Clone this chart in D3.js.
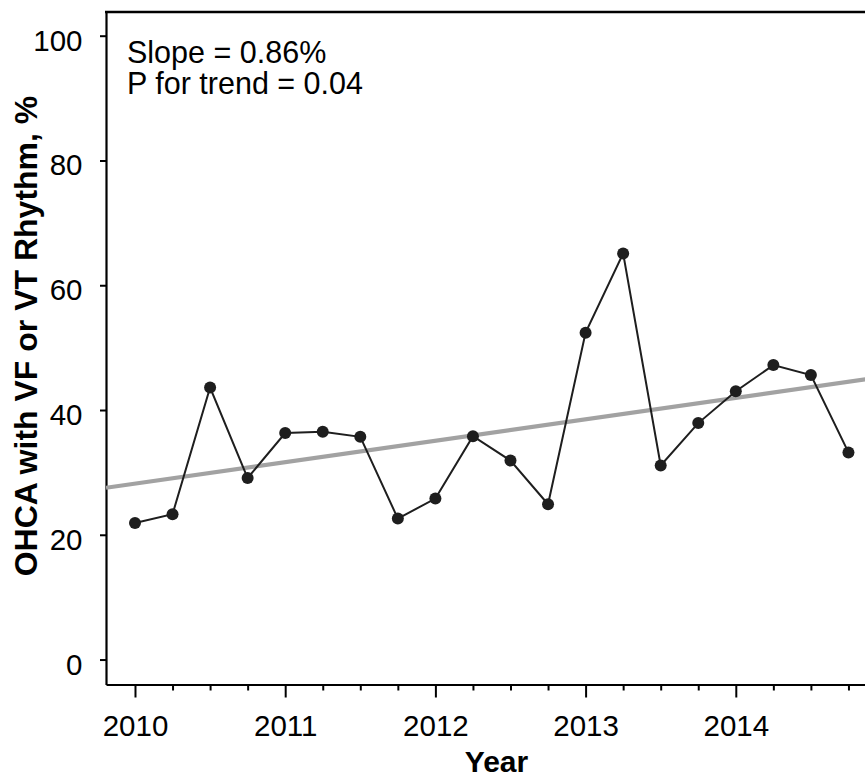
<!DOCTYPE html>
<html>
<head>
<meta charset="utf-8">
<script src="https://cdn.jsdelivr.net/npm/d3@7"></script>
<style>
  html, body { margin: 0; padding: 0; background: #fff; overflow: hidden; }
  svg { display: block; font-family: "Liberation Sans", Arial, Helvetica, sans-serif; }
</style>
</head>
<body>
<svg id="chart" width="865" height="778"></svg>
<script>
// Quarterly share of OHCA with a shockable (VF/VT) rhythm
const quarters = [
  2010.00, 2010.25, 2010.50, 2010.75,
  2011.00, 2011.25, 2011.50, 2011.75,
  2012.00, 2012.25, 2012.50, 2012.75,
  2013.00, 2013.25, 2013.50, 2013.75,
  2014.00, 2014.25, 2014.50, 2014.75
];
const pctVF = [
  21.9, 23.3, 43.6, 29.1,
  36.3, 36.5, 35.7, 22.6,
  25.8, 35.8, 31.9, 24.9,
  52.4, 65.1, 31.1, 37.9,
  43.0, 47.2, 45.6, 33.2
];

// Linear trend: value at 2010.0 and slope per quarter (%)
const trendAt2010 = 28.2;
const trendSlopePerQuarter = 0.86;

const yTicks = [0, 20, 40, 60, 80, 100];
const yearTicks = [2010, 2011, 2012, 2013, 2014];
const quarterTicks = [
  2010, 2010.25, 2010.5, 2010.75, 2011, 2011.25, 2011.5, 2011.75,
  2012, 2012.25, 2012.5, 2012.75, 2013, 2013.25, 2013.5, 2013.75,
  2014, 2014.25, 2014.5, 2014.75
];
const annotations = ["Slope = 0.86%", "P for trend = 0.04"];
const xTitle = "Year";
const yTitle = "OHCA with VF or VT Rhythm, %";

const svg = d3.select("#chart");
const plotL = 106, plotR = 886, plotT = 12, plotB = 684.5;

const x = d3.scaleLinear().domain([2009.807, 2015]).range([plotL, plotR]);
const y = d3.scaleLinear().domain([-4, 103.8]).range([plotB, plotT]);

// Clip for plotted marks
svg.append("defs").append("clipPath").attr("id", "plotClip")
  .append("rect").attr("x", plotL).attr("y", plotT)
  .attr("width", plotR - plotL).attr("height", plotB - plotT);

// Y axis
const yAxis = svg.append("g")
  .attr("transform", `translate(${plotL},0)`)
  .call(d3.axisLeft(y).tickValues(yTicks).tickSize(6).tickSizeOuter(0).tickFormat(d3.format("d")));
yAxis.select(".domain").attr("stroke", "#000").attr("stroke-width", 2.2);
yAxis.selectAll(".tick line").attr("stroke", "#000").attr("stroke-width", 2);
yAxis.selectAll(".tick text")
  .attr("x", -23.5).attr("dy", null).attr("y", 14.5)
  .attr("fill", "#000").style("font-size", "29.5px")
  .style("font-family", "'Liberation Sans', Arial, sans-serif");

// X axis: quarterly minor ticks, labelled yearly major ticks
const xAxis = svg.append("g")
  .attr("transform", `translate(0,${plotB})`)
  .call(d3.axisBottom(x).tickValues(quarterTicks).tickSizeOuter(0)
    .tickFormat(d => yearTicks.includes(d) ? String(d) : ""));
xAxis.select(".domain").attr("stroke", "#000").attr("stroke-width", 2.2);
xAxis.selectAll(".tick line")
  .attr("stroke", "#000").attr("stroke-width", 2)
  .attr("y2", d => yearTicks.includes(d) ? 13 : 6);
xAxis.selectAll(".tick text")
  .attr("y", 51.5).attr("dy", null)
  .attr("fill", "#000").style("font-size", "29.5px")
  .style("font-family", "'Liberation Sans', Arial, sans-serif");

// Top frame line
svg.append("line")
  .attr("x1", plotL - 1).attr("x2", plotR)
  .attr("y1", plotT).attr("y2", plotT)
  .attr("stroke", "#000").attr("stroke-width", 2.4);

const plot = svg.append("g").attr("clip-path", "url(#plotClip)");

// Regression trend line
const xd = x.domain();
const trendPts = xd.map(t => [t, trendAt2010 + (t - 2010) * 4 * trendSlopePerQuarter]);
plot.append("path")
  .attr("d", d3.line().x(d => x(d[0])).y(d => y(d[1]))(trendPts))
  .attr("fill", "none").attr("stroke", "#a2a2a2").attr("stroke-width", 4.2);

// Observed series
const series = quarters.map((q, i) => ({ q, v: pctVF[i] }));
plot.append("path")
  .attr("d", d3.line().x(d => x(d.q)).y(d => y(d.v))(series))
  .attr("fill", "none").attr("stroke", "#1e1e1e").attr("stroke-width", 2);
plot.selectAll("circle").data(series).join("circle")
  .attr("cx", d => x(d.q)).attr("cy", d => y(d.v)).attr("r", 6)
  .attr("fill", "#1e1e1e");

// Annotation text
svg.append("g").selectAll("text").data(annotations).join("text")
  .attr("x", 127).attr("y", (d, i) => 62.5 + i * 31)
  .style("font-size", "30.5px").attr("fill", "#000")
  .text(d => d);

// Axis titles
svg.append("text")
  .attr("x", 496.5).attr("y", 772)
  .attr("text-anchor", "middle")
  .style("font-size", "30px").style("font-weight", "bold").attr("fill", "#000")
  .text(xTitle);

svg.append("text")
  .attr("transform", "translate(37,336) rotate(-90)")
  .attr("text-anchor", "middle")
  .style("font-size", "32px").style("font-weight", "bold").attr("fill", "#000")
  .text(yTitle);
</script>
</body>
</html>
